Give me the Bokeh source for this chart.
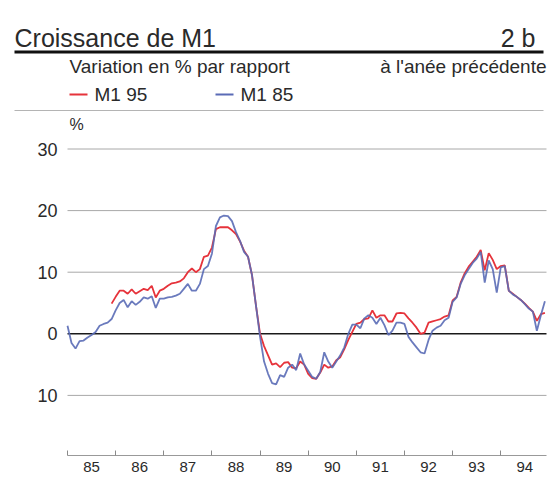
import numpy as np
from bokeh.plotting import figure
from bokeh.models import Range1d, FixedTicker, Label, ColumnDataSource
from bokeh.embed import file_html
from bokeh.resources import INLINE

# ---------------- data ----------------
start_year = 1985
m1_85 = [1.3, -1.5, -2.4, -1.2, -1.1, -0.6, -0.2, 0.3, 1.3, 1.6, 1.8, 2.4,
         3.8, 5.0, 5.5, 4.3, 5.3, 4.7, 5.2, 5.9, 5.7, 6.1, 4.2, 5.7,
         5.7, 5.9, 6.0, 6.2, 6.5, 7.3, 8.1, 7.0, 7.0, 8.1, 10.5, 11.0,
         13.0, 17.5, 18.9, 19.2, 19.1, 18.3, 16.5, 15.1, 13.3, 12.5, 9.5, 4.5,
         -0.5, -4.5, -6.5, -8.0, -8.2, -6.7, -7.0, -5.5, -5.0, -5.9, -3.2, -5.0,
         -6.0, -7.0, -7.3, -6.2, -3.0, -4.5, -5.5, -4.5, -3.5, -2.2, 0.0, 1.5,
         1.5, 0.9, 2.5, 3.0, 2.6, 1.6, 2.6, 1.4, -0.2, 0.5, 1.8, 1.8,
         1.6, -0.5, -1.4, -2.2, -3.0, -3.2, -1.0, 0.5, 1.0, 1.3, 2.2, 2.6,
         5.2, 5.9, 8.1, 9.5, 10.5, 11.5, 12.2, 13.3, 8.3, 11.9, 10.5, 6.7,
         10.8, 11.0, 7.0, 6.4, 6.0, 5.5, 4.8, 4.1, 3.6, 0.5, 3.0, 5.3]
nan = float("nan")
m1_95 = [nan, nan, nan, nan, nan, nan, nan, nan, nan, nan, nan, 4.9,
         6.0, 7.0, 7.0, 6.5, 7.2, 6.5, 6.9, 7.3, 7.1, 7.8, 5.9, 7.0,
         7.3, 7.8, 8.2, 8.3, 8.5, 9.0, 10.0, 10.6, 10.0, 10.5, 12.5, 12.7,
         14.0, 17.0, 17.3, 17.3, 17.3, 16.8, 16.2, 15.0, 13.5, 12.5, 9.5, 4.5,
         0.0, -2.0, -3.5, -5.0, -4.8, -5.4, -4.7, -4.6, -5.5, -5.6, -4.5, -5.0,
         -6.5, -7.2, -7.3, -6.3, -5.0, -5.5, -5.3, -4.3, -3.8, -2.5, -1.0, 0.3,
         1.6, 1.8, 2.4, 2.5, 3.8, 2.6, 3.0, 3.0, 2.0, 2.0, 3.3, 3.4,
         3.3, 2.5, 1.8, 1.0, 0.0, 0.2, 1.8, 2.0, 2.2, 2.4, 2.8, 3.0,
         5.4, 6.0, 8.3, 9.8, 10.9, 11.7, 12.5, 13.6, 10.3, 13.1, 12.0, 10.5,
         11.0, 11.1, 7.0, 6.5, 6.0, 5.5, 4.9, 4.2, 3.6, 2.1, 3.2, 3.4]
years = [1985, 1986, 1987, 1988, 1989, 1990, 1991, 1992, 1993, 1994]
year_labels = ["85", "86", "87", "88", "89", "90", "91", "92", "93", "94"]
y_ticks = [-10, 0, 10, 20, 30]
y_tick_labels = ["10", "0", "10", "20", "30"]
grid_values = [-10, 10, 20, 30]
series_names = ["M1 95", "M1 85"]
x_last = 1994.95      # right end of the plotting area
y_axis_at = -19.75    # level of the time axis

# ---------------- styles ----------------
FONT = "Liberation Sans"
RED = "#e6333b"
BLUE = "#5a6bb6"
TXT = "#2a2a2a"

W, H = 557, 477
PX_YEAR = 48.14          # pixels per year
PX_UNIT = 6.16           # pixels per percentage point
X0_PX, Y0_PX = 67.0, 333.3   # pixel position of 1985 and of 0 %

def px_x(px):
    return start_year + (px - X0_PX) / PX_YEAR

def px_y(py):
    return (Y0_PX - py) / PX_UNIT

x = start_year + np.arange(len(m1_85)) / 12.0
src = ColumnDataSource(dict(x=x, m85=np.array(m1_85, dtype=float),
                            m95=np.array(m1_95, dtype=float)))

p = figure(width=W, height=H,
           x_range=Range1d(px_x(0), px_x(W)), y_range=Range1d(px_y(H), px_y(0)),
           output_backend="svg", toolbar_location=None,
           min_border=0, min_border_left=0, min_border_right=0,
           min_border_top=0, min_border_bottom=0)
p.outline_line_color = None
p.background_fill_color = "white"
p.border_fill_color = "white"
p.xgrid.visible = False
p.ygrid.visible = False

# ---------------- header ----------------
def label(px, py, text, size, align="left", baseline="middle"):
    p.add_layout(Label(x=px_x(px), y=px_y(py), text=text, text_font=FONT,
                       text_font_size=size, text_color=TXT, text_align=align,
                       text_baseline=baseline))

label(14, 37.5, "Croissance de M1", "25px", baseline="alphabetic")
label(535, 37.5, "2 b", "25px", align="right", baseline="alphabetic")
p.segment(x0=[px_x(14)], y0=[px_y(51.5)], x1=[px_x(543)], y1=[px_y(51.5)],
          line_color="#111111", line_width=3.2)
label(69, 66, "Variation en % par rapport", "19px")
label(546, 66, "à l'anée précédente", "19px", align="right")

# legend
p.segment(x0=[px_x(69)], y0=[px_y(94)], x1=[px_x(87)], y1=[px_y(94)],
          line_color=RED, line_width=2)
label(94, 94, series_names[0], "19px")
p.segment(x0=[px_x(215)], y0=[px_y(94)], x1=[px_x(233)], y1=[px_y(94)],
          line_color=BLUE, line_width=2)
label(240, 94, series_names[1], "19px")
p.segment(x0=[px_x(14)], y0=[px_y(110)], x1=[px_x(543)], y1=[px_y(110)],
          line_color="#b4b4b4", line_width=1)
label(69, 124, "%", "16px")

# ---------------- grid ----------------
p.segment(x0=[years[0]] * len(grid_values), y0=grid_values,
          x1=[x_last] * len(grid_values), y1=grid_values,
          line_color="#a8a8a8", line_width=1)
p.segment(x0=[years[0]], y0=[0], x1=[x_last], y1=[0], line_color="#1a1a1a", line_width=1.6)

# ---------------- series ----------------
p.line("x", "m95", source=src, line_color=RED, line_width=1.8)
p.line("x", "m85", source=src, line_color=BLUE, line_width=1.8, line_alpha=0.9)

# ---------------- axes ----------------
yax = p.yaxis[0]
yax.fixed_location = years[0]
yax.ticker = FixedTicker(ticks=y_ticks)
yax.major_label_overrides = {t: l for t, l in zip(y_ticks, y_tick_labels)}
yax.axis_line_color = None
yax.major_tick_line_color = None
yax.minor_tick_line_color = None
yax.major_label_standoff = 4
yax.major_label_text_font = FONT
yax.major_label_text_font_size = "18px"
yax.major_label_text_color = TXT

mids = [yy + 0.5 for yy in years]
xax = p.xaxis[0]
xax.fixed_location = y_axis_at
xax.bounds = (years[0], x_last)
xax.ticker = FixedTicker(ticks=mids, minor_ticks=years)
xax.major_label_overrides = {m: l for m, l in zip(mids, year_labels)}
xax.major_tick_line_color = None
xax.minor_tick_in = 5
xax.minor_tick_out = 0
xax.minor_tick_line_color = "#8a8a8a"
xax.axis_line_color = "#999999"
xax.major_label_standoff = 1
xax.major_label_text_font = FONT
xax.major_label_text_font_size = "15px"
xax.major_label_text_color = TXT

open("out.html", "w").write(file_html(p, INLINE))
